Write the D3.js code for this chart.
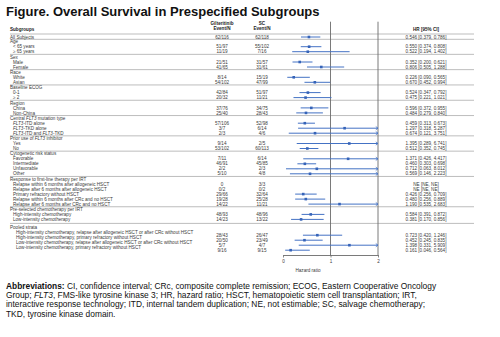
<!DOCTYPE html>
<html>
<head>
<meta charset="utf-8">
<script src="https://cdn.jsdelivr.net/npm/d3@7"></script>
<style>
  html, body { margin: 0; padding: 0; background: #fff; }
  svg { display: block; font-family: "Liberation Sans", Arial, sans-serif; }
</style>
</head>
<body>
<div class="forest"></div>
<script>
// Subgroup headers and how many rows sit under each
const groupNames = ['', 'Age', 'Sex', 'Race', 'Baseline ECOG', 'Region',
  'Central FLT3 mutation type', 'Prior use of FLT3 inhibitor', 'Cytogenetic risk status',
  'Response to first-line therapy per IRT', 'Pre-selected chemotherapy per IRT', 'Pooled strata'];
const groupSizes = [1, 2, 2, 2, 2, 2, 3, 2, 4, 5, 2, 4];

const subgroups = [
  'All Subjects',
  '< 65 years', '\u2265 65 years',
  'Male', 'Female',
  'White', 'Asian',
  '0-1', '\u2265 2',
  'China', 'Non-China',
  'FLT3-ITD alone', 'FLT3-TKD alone', 'FLT3-ITD and FLT3-TKD',
  'Yes', 'No',
  'Favorable', 'Intermediate', 'Unfavorable', 'Other',
  'Relapse within 6 months after allogeneic HSCT',
  'Relapse after 6 months after allogeneic HSCT',
  'Primary refractory without HSCT',
  'Relapse within 6 months after CRc and no HSCT',
  'Relapse after 6 months after CRc and no HSCT',
  'High-intensity chemotherapy', 'Low-intensity chemotherapy',
  'High-intensity chemotherapy, relapse after allogeneic HSCT or after CRc without HSCT',
  'High-intensity chemotherapy, primary refractory without HSCT',
  'Low-intensity chemotherapy, relapse after allogeneic HSCT or after CRc without HSCT',
  'Low-intensity chemotherapy, primary refractory without HSCT'
];

const giltEventN = ['62/116', '51/97', '11/19', '21/51', '41/65', '8/14', '54/102',
  '42/84', '20/32', '37/76', '25/40', '57/106', '3/7', '2/3', '9/14', '53/102',
  '7/11', '46/91', '2/2', '5/10', '0', '0/2', '29/66', '19/28', '14/22',
  '48/93', '14/23', '28/43', '20/50', '5/7', '9/16'];

const scEventN = ['62/118', '55/102', '7/16', '31/57', '31/61', '15/19', '47/99',
  '51/97', '11/21', '34/75', '28/43', '52/98', '6/14', '4/6', '2/5', '60/113',
  '6/14', '45/85', '2/3', '4/8', '3/3', '0/2', '32/64', '25/28', '11/21',
  '48/96', '13/22', '26/47', '23/49', '4/7', '9/15'];

const hazardRatio = [0.546, 0.550, 0.522, 0.352, 0.806, 0.226, 0.670, 0.524, 0.475,
  0.596, 0.484, 0.459, 1.297, 0.674, 1.395, 0.512, 1.371, 0.460, 0.712, 0.569,
  null, null, 0.426, 0.480, 1.190, 0.584, 0.381, 0.723, 0.452, 1.398, 0.161];
const ciLower = [0.379, 0.374, 0.194, 0.200, 0.505, 0.090, 0.452, 0.347, 0.221,
  0.372, 0.279, 0.313, 0.318, 0.121, 0.289, 0.352, 0.426, 0.303, 0.063, 0.146,
  null, null, 0.256, 0.256, 0.535, 0.391, 0.170, 0.420, 0.245, 0.331, 0.046];
const ciUpper = [0.786, 0.808, 1.402, 0.621, 1.288, 0.565, 0.994, 0.792, 1.021,
  0.955, 0.840, 0.673, 5.287, 3.751, 6.741, 0.745, 4.417, 0.698, 8.012, 2.223,
  null, null, 0.709, 0.889, 2.683, 0.872, 0.856, 1.246, 0.835, 5.909, 0.564];

const hrTicks = [0, 1, 2];

const abbreviationLines = [
  [['Abbreviations:', 'b'], [' CI, confidence interval; CRc, composite complete remission; ECOG, Eastern Cooperative Oncology', '']],
  [['Group; ', ''], ['FLT3', 'i'], [', FMS-like tyrosine kinase 3; HR, hazard ratio; HSCT, hematopoietic stem cell transplantation; IRT,', '']],
  [['interactive response technology; ITD, internal tandem duplication; NE, not estimable; SC, salvage chemotherapy;', '']],
  [['TKD, tyrosine kinase domain.', '']]
];

const width = 500;
const height = 337;
const blue = '#4472c4';
const textColor = '#3a3a3a';
const fs = 4.6;

const svg = d3.select('.forest')
  .append('svg')
  .attr('width', width)
  .attr('height', height);

// Lay out rows top to bottom
const rows = [];
const separators = [];
let y = 37;
let idx = 0;
groupNames.forEach((g, gi) => {
  if (gi > 0) {
    const gap = g === 'Pooled strata' ? 3.0 : 0.3;
    const prev = y;
    y += (gi === 1 ? 4.7 : 5 + gap);
    separators.push((prev + y) / 2);
    rows.push({ type: 'head', label: g, y });
  }
  for (let k = 0; k < groupSizes[gi]; k++) {
    if (gi > 0) y += 5;
    const pooled = g === 'Pooled strata';
    rows.push({
      type: gi === 0 ? 'top' : (pooled ? 'pooled' : 'row'),
      label: subgroups[idx],
      y,
      vy: pooled ? y + 2.8 : y,
      gilt: giltEventN[idx],
      sc: scEventN[idx],
      hr: hazardRatio[idx],
      lo: ciLower[idx],
      hi: ciUpper[idx]
    });
    idx++;
  }
});

const x = d3.scaleLinear().domain([0, 2]).range([283, 378]);

// Label text with FLT3 in italics
function richText(sel, str) {
  str.split(/(FLT3)/).filter(s => s.length).forEach(part => {
    sel.append('tspan')
      .attr('font-style', part === 'FLT3' ? 'italic' : null)
      .text(part);
  });
}

// Title
svg.append('text')
  .attr('x', 6)
  .attr('y', 16)
  .attr('font-size', 13)
  .attr('font-weight', 'bold')
  .attr('fill', '#111')
  .text('Figure. Overall Survival in Prespecified Subgroups');

// Column headers
const head = svg.append('g')
  .attr('font-size', fs)
  .attr('font-weight', 'bold')
  .attr('fill', '#222');
head.append('text').attr('x', 10).attr('y', 29.3).attr('dy', '0.35em').text('Subgroups');
[[222, 'Gilteritinib'], [262, 'SC']].forEach(([cx, name]) => {
  head.append('text').attr('x', cx).attr('y', 23.5).attr('dy', '0.35em')
    .attr('text-anchor', 'middle').text(name);
  head.append('text').attr('x', cx).attr('y', 28.2).attr('dy', '0.35em')
    .attr('text-anchor', 'middle').text('Event/N');
});
head.append('text').attr('x', 426).attr('y', 29).attr('dy', '0.35em')
  .attr('text-anchor', 'middle').text('HR [95% CI]');

// Horizontal rules
svg.append('g')
  .selectAll('line')
  .data([34, 39.3].concat(separators.slice(1)))
  .enter()
  .append('line')
  .attr('x1', 10).attr('x2', 474)
  .attr('y1', d => d).attr('y2', d => d)
  .attr('stroke', '#bdbdbd')
  .attr('stroke-width', 1);

// Reference lines at HR = 1 and the right edge
svg.append('g')
  .selectAll('line')
  .data([1, 2])
  .enter()
  .append('line')
  .attr('x1', d => x(d)).attr('x2', d => x(d))
  .attr('y1', 21.7).attr('y2', 255)
  .attr('stroke', '#6b6b6b')
  .attr('stroke-width', 0.9);

// Row labels
const labels = svg.append('g').attr('font-size', fs).attr('fill', textColor);
rows.forEach(r => {
  const xPos = r.type === 'head' || r.type === 'top' ? 10 : (r.type === 'pooled' ? 16 : 13);
  const t = labels.append('text').attr('x', xPos).attr('y', r.y).attr('dy', '0.35em');
  richText(t, r.label);
});

const dataRows = rows.filter(r => r.type !== 'head');

// Event counts
const counts = svg.append('g').attr('font-size', fs).attr('fill', textColor)
  .attr('text-anchor', 'middle');
dataRows.forEach(r => {
  counts.append('text').attr('x', 222).attr('y', r.vy).attr('dy', '0.35em').text(r.gilt);
  counts.append('text').attr('x', 262).attr('y', r.vy).attr('dy', '0.35em').text(r.sc);
});

// HR [95% CI] text
const fmt = d3.format('.3f');
svg.append('g').attr('font-size', fs).attr('fill', textColor).attr('text-anchor', 'middle')
  .selectAll('text')
  .data(dataRows)
  .enter()
  .append('text')
  .attr('x', 426)
  .attr('y', d => d.vy)
  .attr('dy', '0.35em')
  .text(d => d.hr == null ? 'NE [NE, NE]' : `${fmt(d.hr)} [${fmt(d.lo)}, ${fmt(d.hi)}]`);

// Confidence intervals, arrows and point estimates
const est = dataRows.filter(r => r.hr != null);
const marks = svg.append('g');
marks.selectAll('.ci')
  .data(est)
  .enter()
  .append('line')
  .attr('class', 'ci')
  .attr('x1', d => x(Math.max(d.lo, 0)))
  .attr('x2', d => x(Math.min(d.hi, 2)))
  .attr('y1', d => d.vy).attr('y2', d => d.vy)
  .attr('stroke', blue)
  .attr('stroke-width', 1);

marks.selectAll('.arrow')
  .data(est.filter(d => d.hi > 2))
  .enter()
  .append('path')
  .attr('class', 'arrow')
  .attr('d', d => `M${x(2) - 2.2},${d.vy - 1.6}L${x(2)},${d.vy}L${x(2) - 2.2},${d.vy + 1.6}`)
  .attr('fill', 'none')
  .attr('stroke', blue)
  .attr('stroke-width', 0.8);

marks.selectAll('.pt')
  .data(est)
  .enter()
  .append('rect')
  .attr('class', 'pt')
  .attr('x', d => x(d.hr) - 1.3)
  .attr('y', d => d.vy - 1.3)
  .attr('width', 2.6)
  .attr('height', 2.6)
  .attr('fill', '#3563b8');

// Hazard ratio axis
const axis = svg.append('g')
  .attr('transform', 'translate(0,255)')
  .call(d3.axisBottom(x).tickValues(hrTicks).tickSize(2.5).tickSizeOuter(0).tickPadding(2)
    .tickFormat(d3.format('d')));
axis.select('.domain').attr('stroke', '#6b6b6b').attr('stroke-width', 0.9);
axis.selectAll('.tick line').attr('stroke', '#6b6b6b').attr('stroke-width', 0.8);
axis.selectAll('.tick text').attr('font-size', fs).attr('fill', textColor)
  .attr('font-family', '"Liberation Sans", Arial, sans-serif');

svg.append('text')
  .attr('x', 308)
  .attr('y', 270.3)
  .attr('dy', '0.35em')
  .attr('text-anchor', 'middle')
  .attr('font-size', fs)
  .attr('fill', textColor)
  .text('Hazard ratio');

// Abbreviations footnote
const foot = svg.append('g').attr('font-size', 8.4).attr('fill', '#111');
abbreviationLines.forEach((line, i) => {
  const t = foot.append('text').attr('x', 6).attr('y', 288.6 + i * 9.3);
  line.forEach(([str, style]) => {
    t.append('tspan')
      .attr('font-weight', style === 'b' ? 'bold' : null)
      .attr('font-style', style === 'i' ? 'italic' : null)
      .text(str);
  });
});
</script>
</body>
</html>
